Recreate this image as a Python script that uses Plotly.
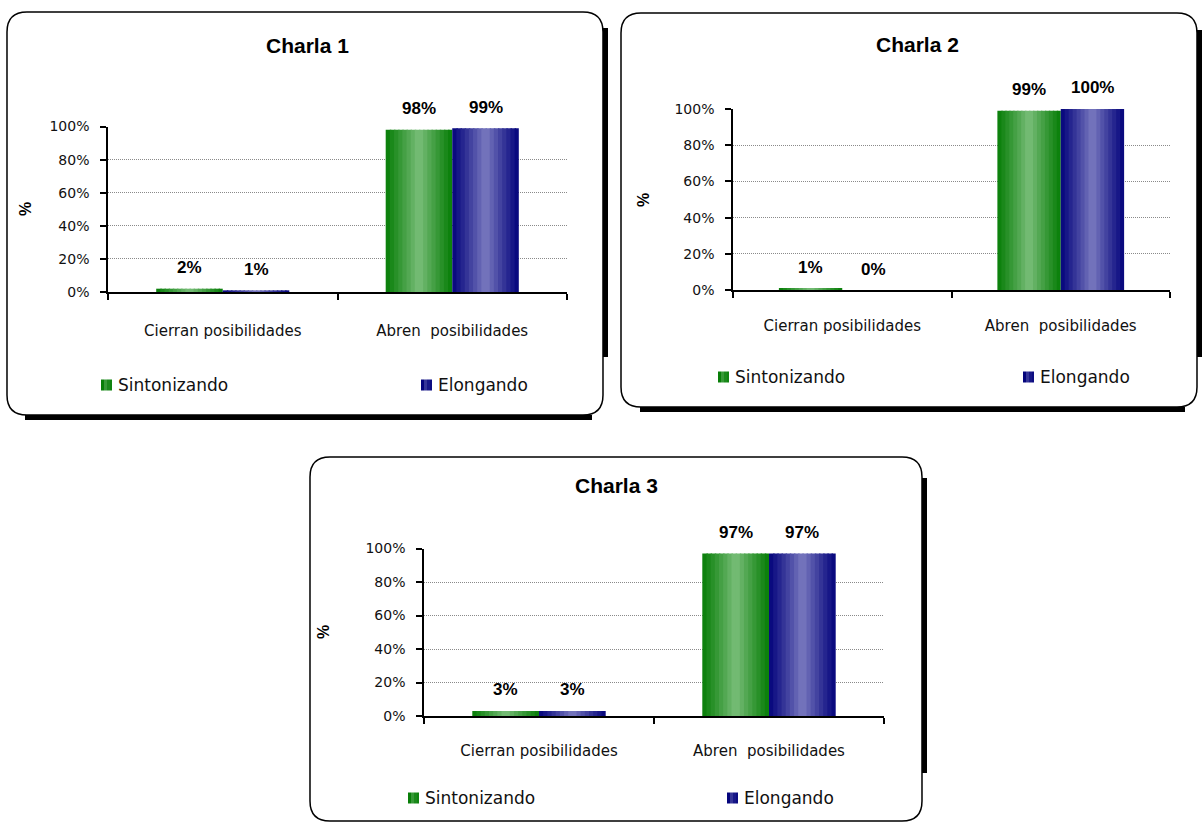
import plotly.graph_objects as go

W, H = 1202, 823

# ---- data -------------------------------------------------------------
categories = ["Cierran posibilidades", "Abren  posibilidades"]
series_names = ["Sintonizando", "Elongando"]
chart_titles = ["Charla 1", "Charla 2", "Charla 3"]

charla1_sintonizando = [2, 98]
charla1_elongando = [1, 99]
charla2_sintonizando = [1, 99]
charla2_elongando = [0, 100]
charla3_sintonizando = [3, 97]
charla3_elongando = [3, 97]

y_tick_values = [0, 20, 40, 60, 80, 100]
y_tick_labels = ["0%", "20%", "40%", "60%", "80%", "100%"]

panel_values = [
    (charla1_sintonizando, charla1_elongando),
    (charla2_sintonizando, charla2_elongando),
    (charla3_sintonizando, charla3_elongando),
]

# ---- layout geometry (pixels) ----------------------------------------
panels = [
    dict(frame=(7, 12, 603, 415), plot=(108, 126.5, 567, 292), title=(307, 46),
         ytitle=(26, 209), legend_x=(101, 421), legend_y=385, cat_standoff=24,
         shadow_right=(28, 357), shadow_bottom=(25, 592)),
    dict(frame=(621, 13, 1197, 407), plot=(733, 109, 1170, 290), title=(917, 45),
         ytitle=(643, 200), legend_x=(718, 1023), legend_y=377, cat_standoff=21,
         shadow_right=(30, 357), shadow_bottom=(640, 1185)),
    dict(frame=(310, 457, 922, 821), plot=(424, 548.5, 884, 716), title=(616, 485),
         ytitle=(323, 632), legend_x=(408, 727), legend_y=798, cat_standoff=20,
         shadow_right=(478, 773), shadow_bottom=None),
]

BAR_W = 0.29          # width of one bar, in category units
N_STRIPS = 16         # vertical strips used to shade each bar

EDGE = [(8, 126, 8), (4, 4, 124)]
MID = [(122, 190, 122), (122, 122, 192)]

TEXT_FONT = "DejaVu Sans"
BOLD_FONT = "Liberation Sans"


def px(x):
    return x / W


def py(y):
    return 1 - y / H


def rgb(c):
    return "rgb(%d,%d,%d)" % tuple(int(round(v)) for v in c)


def shade(s, t):
    w = max(0.0, 1 - abs(2 * t - 1)) ** 1.1
    return rgb([e + (m - e) * w for e, m in zip(EDGE[s], MID[s])])


def rounded_rect(x0, y0, x1, y1, r):
    pts = [
        ("M", x0 + r, y0), ("L", x1 - r, y0), ("Q", x1, y0, x1, y0 + r),
        ("L", x1, y1 - r), ("Q", x1, y1, x1 - r, y1), ("L", x0 + r, y1),
        ("Q", x0, y1, x0, y1 - r), ("L", x0, y0 + r), ("Q", x0, y0, x0 + r, y0),
    ]
    out = []
    for p in pts:
        cmd, coords = p[0], p[1:]
        c = []
        for i in range(0, len(coords), 2):
            c.append("%.5f,%.5f" % (px(coords[i]), py(coords[i + 1])))
        out.append(cmd + " ".join(c))
    return " ".join(out) + " Z"


fig = go.Figure()
shapes = []
annotations = []

for p, (geom, vals, title) in enumerate(zip(panels, panel_values, chart_titles)):
    sfx = "" if p == 0 else str(p + 1)
    xa, ya = "x" + sfx, "y" + sfx
    x0, y0, x1, y1 = geom["plot"]

    # shaded bars: each bar is built from narrow vertical strips
    sw = BAR_W / N_STRIPS
    for s, series in enumerate(vals):
        xs, ys, offs, wids, cols = [], [], [], [], []
        base = -BAR_W if s == 0 else 0.0
        for ci, cat in enumerate(categories):
            for k in range(N_STRIPS):
                xs.append(cat)
                ys.append(series[ci])
                offs.append(base + k * sw)
                wids.append(sw * (1.35 if k < N_STRIPS - 1 else 1.0))
                cols.append(shade(s, (k + 0.5) / N_STRIPS))
        fig.add_trace(go.Bar(
            x=xs, y=ys, offset=offs, width=wids, name=series_names[s],
            marker=dict(color=cols, line=dict(width=0)),
            xaxis=xa, yaxis=ya, showlegend=False, hoverinfo="skip",
        ))
        # value labels above each bar
        for ci, v in enumerate(series):
            annotations.append(dict(
                x=ci + base + BAR_W / 2, y=v, xref=xa, yref=ya, text="%d%%" % v,
                showarrow=False, yshift=21, yanchor="middle",
                font=dict(family=BOLD_FONT, size=17, color="#000", weight="bold"),
            ))

    axis_common = dict(showline=True, linecolor="#000", ticks="outside",
                       tickcolor="#000", ticklen=6, automargin=False)
    fig.update_layout(**{
        ("xaxis" + sfx): dict(
            domain=[px(x0), px(x1)], anchor=ya, type="category",
            categoryorder="array", categoryarray=categories,
            range=[-0.5, 1.5], tickson="boundaries", linewidth=2, tickwidth=1.5,
            showgrid=False, fixedrange=True, ticklabelstandoff=geom["cat_standoff"],
            tickfont=dict(family=TEXT_FONT, size=15, color="#111"),
            **axis_common),
        ("yaxis" + sfx): dict(
            domain=[py(y1), py(y0)], anchor=xa, range=[0, 100],
            tickvals=y_tick_values, ticktext=y_tick_labels, linewidth=1.5,
            tickwidth=1.5, showgrid=True, gridcolor="#8a8a8a", gridwidth=1,
            griddash="1px,1px", zeroline=False, fixedrange=True,
            ticklabelstandoff=8,
            tickfont=dict(family=TEXT_FONT, size=14, color="#111"),
            **axis_common),
    })

    # chart frame and its drop shadow
    fx0, fy0, fx1, fy1 = geom["frame"]
    shapes.append(dict(type="path", xref="paper", yref="paper",
                       path=rounded_rect(fx0, fy0, fx1, fy1, 20),
                       line=dict(color="#000", width=1.5), layer="below"))
    sr = geom["shadow_right"]
    shapes.append(dict(type="line", xref="paper", yref="paper",
                       x0=px(fx1 + 2.5), x1=px(fx1 + 2.5), y0=py(sr[0]), y1=py(sr[1]),
                       line=dict(color="#000", width=5)))
    sb = geom["shadow_bottom"]
    if sb:
        shapes.append(dict(type="line", xref="paper", yref="paper",
                           x0=px(sb[0]), x1=px(sb[1]), y0=py(fy1 + 2.5), y1=py(fy1 + 2.5),
                           line=dict(color="#000", width=5)))

    # title and axis title
    tx, ty = geom["title"]
    annotations.append(dict(x=px(tx), y=py(ty), xref="paper", yref="paper",
                            text=title, showarrow=False, xanchor="center", yanchor="middle",
                            font=dict(family=BOLD_FONT, size=21, color="#000", weight="bold")))
    ax_, ay_ = geom["ytitle"]
    annotations.append(dict(x=px(ax_), y=py(ay_), xref="paper", yref="paper",
                            text="%", textangle=-90, showarrow=False,
                            xanchor="center", yanchor="middle",
                            font=dict(family=BOLD_FONT, size=16, color="#000", weight="bold")))

    # legend: shaded square + series name
    ly = geom["legend_y"]
    for s, lx in enumerate(geom["legend_x"]):
        strips = [(0, 3, 0.0), (3, 6, 0.55), (6, 9, 0.8), (9, 11, 0.1)]
        for a, b, t in strips:
            shapes.append(dict(type="rect", xref="paper", yref="paper",
                               x0=px(lx + a), x1=px(lx + b), y0=py(ly + 5.5), y1=py(ly - 5.5),
                               fillcolor=shade(s, 0.5 * t if t < 0.5 else 1 - 0.5 * (1 - t)),
                               line=dict(width=0)))
        annotations.append(dict(x=px(lx + 15), y=py(ly), xref="paper", yref="paper",
                                text=series_names[s], showarrow=False,
                                xanchor="left", yanchor="middle",
                                font=dict(family=TEXT_FONT, size=17, color="#111")))

fig.update_layout(
    width=W, height=H, margin=dict(l=0, r=0, t=0, b=0, autoexpand=False),
    paper_bgcolor="white", plot_bgcolor="white",
    barmode="overlay", showlegend=False,
    shapes=shapes, annotations=annotations,
)

fig.write_html("out.html")
